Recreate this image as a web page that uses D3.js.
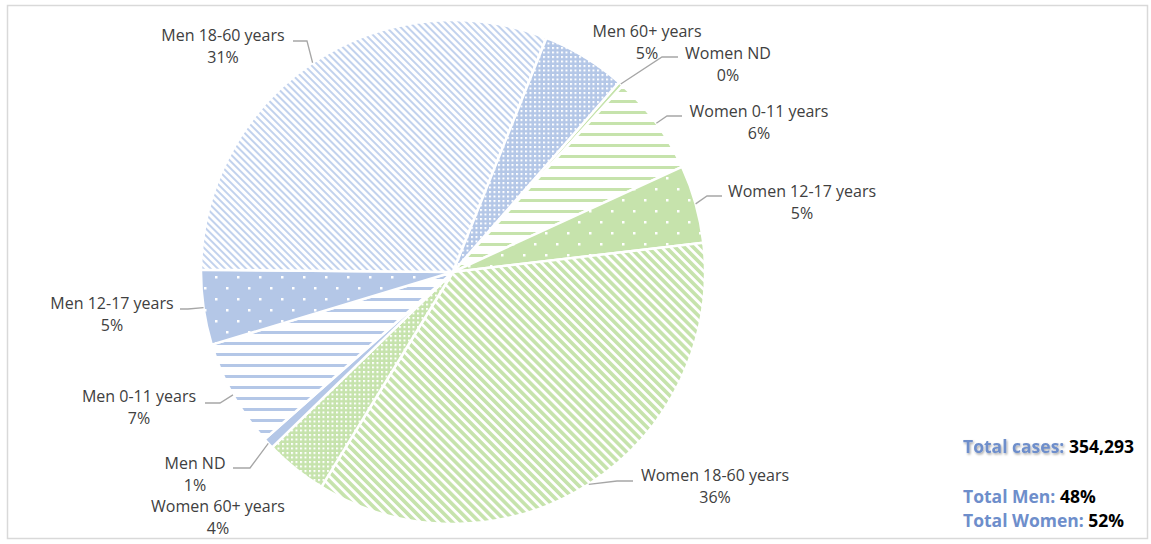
<!DOCTYPE html>
<html>
<head>
<meta charset="utf-8">
<script src="https://cdn.jsdelivr.net/npm/d3@7"></script>
<style>
  body { margin: 0; background: #fff; }
  svg { display: block; font-family: "Open Sans", sans-serif; }
</style>
</head>
<body>
<svg id="chart" width="1151" height="544"></svg>
<script>
// slice order follows the chart, clockwise from the first slice
const categories = ['Women ND', 'Women 0-11 years', 'Women 12-17 years', 'Women 18-60 years', 'Women 60+ years',
                    'Men ND', 'Men 0-11 years', 'Men 12-17 years', 'Men 18-60 years', 'Men 60+ years']
const shares = [0.3, 6.4, 5.0, 35.6, 4.0, 0.7, 6.9, 4.8, 30.9, 5.4]
const groups = ['women', 'women', 'women', 'women', 'women', 'men', 'men', 'men', 'men', 'men']
const ages = ['nd', 'a0', 'a12', 'a18', 'a60', 'nd', 'a0', 'a12', 'a18', 'a60']
const totalCases = '354,293'
const totalMen = '48%'
const totalWomen = '52%'

const colors = { men: '#b4c7e7', women: '#c6e3ac' }

// label layout: text centre, plus leader elbow / end (null = no leader)
const labelPos = [
    { x: 728, y: 53, elbow: [662, 57], end: [678, 57] },
    { x: 759, y: 111, elbow: [667, 116], end: [682, 116] },
    { x: 802, y: 191, elbow: [707, 196], end: [722, 196] },
    { x: 715, y: 475, elbow: [617, 481], end: [633, 481] },
    { x: 218, y: 506, elbow: null },
    { x: 195, y: 463, elbow: [250, 468], end: [233, 468] },
    { x: 139, y: 396, elbow: [220, 403], end: [205, 403] },
    { x: 112, y: 303, elbow: [188, 309], end: [180, 309] },
    { x: 223, y: 35, elbow: [307, 41], end: [293, 41] },
    { x: 647, y: 31, elbow: null }
]

const svg = d3.select('#chart')
const cx = 453, cy = 272, radius = 252
const startDeg = 41.2

// frame
svg.append('rect')
    .attr('x', 7.5).attr('y', 5.5)
    .attr('width', 1140).attr('height', 533)
    .attr('fill', '#fff')
    .attr('stroke', '#d9d9d9')
    .attr('stroke-width', 1.5)

// fill patterns
const defs = svg.append('defs')
Object.keys(colors).forEach(g => {
    const c = colors[g]
    // 0-11: horizontal stripes on white
    let p = defs.append('pattern').attr('id', `${g}-a0`)
        .attr('patternUnits', 'userSpaceOnUse').attr('width', 16).attr('height', 11)
    p.append('rect').attr('width', 16).attr('height', 11).attr('fill', '#fff')
    p.append('rect').attr('y', 4).attr('width', 16).attr('height', 3).attr('fill', c)

    // 12-17: sparse white dots on colour
    p = defs.append('pattern').attr('id', `${g}-a12`)
        .attr('patternUnits', 'userSpaceOnUse').attr('width', 22).attr('height', 22)
    p.append('rect').attr('width', 22).attr('height', 22).attr('fill', c)
    p.append('rect').attr('x', 4).attr('y', 4).attr('width', 2.5).attr('height', 2.5).attr('fill', '#fff')
    p.append('rect').attr('x', 15).attr('y', 15).attr('width', 2.5).attr('height', 2.5).attr('fill', '#fff')

    // 60+: dense white dots
    p = defs.append('pattern').attr('id', `${g}-a60`)
        .attr('patternUnits', 'userSpaceOnUse').attr('width', 4.5).attr('height', 4.5)
    p.append('rect').attr('width', 4.5).attr('height', 4.5).attr('fill', c)
    p.append('rect').attr('width', 2).attr('height', 2).attr('fill', '#fff')
})

// 18-60 women: wide downward diagonal
let pd = defs.append('pattern').attr('id', 'women-a18')
    .attr('patternUnits', 'userSpaceOnUse').attr('width', 6.4).attr('height', 6.4)
    .attr('patternTransform', 'rotate(-45)')
pd.append('rect').attr('width', 6.4).attr('height', 6.4).attr('fill', '#fff')
pd.append('rect').attr('width', 3.6).attr('height', 6.4).attr('fill', colors.women)

// 18-60 men: light downward diagonal
pd = defs.append('pattern').attr('id', 'men-a18')
    .attr('patternUnits', 'userSpaceOnUse').attr('width', 5).attr('height', 5)
    .attr('patternTransform', 'rotate(-45)')
pd.append('rect').attr('width', 5).attr('height', 5).attr('fill', '#fff')
pd.append('rect').attr('width', 2).attr('height', 5).attr('fill', '#c2d2ed')

const fillFor = i => ages[i] === 'nd' ? colors[groups[i]] : `url(#${groups[i]}-${ages[i]})`

const pie = d3.pie().sort(null).value(d => d)
    .startAngle(startDeg * Math.PI / 180)
    .endAngle(startDeg * Math.PI / 180 + 2 * Math.PI)
const arcs = pie(shares)
const arc = d3.arc().innerRadius(0).outerRadius(radius)

const g = svg.append('g').attr('transform', `translate(${cx}, ${cy})`)
g.selectAll('path.slice')
    .data(arcs)
    .enter().append('path')
    .attr('class', 'slice')
    .attr('d', arc)
    .attr('fill', (d, i) => fillFor(i))
    .attr('stroke', '#fff')
    .attr('stroke-width', 2.5)
    .attr('stroke-linejoin', 'round')

// leader lines
const pointOnArc = d => {
    const a = (d.startAngle + d.endAngle) / 2
    return [cx + radius * Math.sin(a), cy - radius * Math.cos(a)]
}
arcs.forEach((d, i) => {
    const lp = labelPos[i]
    if (!lp.elbow) return
    svg.append('path')
        .attr('d', d3.line()([pointOnArc(d), lp.elbow, lp.end]))
        .attr('fill', 'none')
        .attr('stroke', '#a6a6a6')
        .attr('stroke-width', 1.3)
})

// labels
arcs.forEach((d, i) => {
    const lp = labelPos[i]
    const t = svg.append('text')
        .attr('text-anchor', 'middle')
        .attr('font-size', 16)
        .attr('fill', '#404040')
    t.append('tspan').attr('x', lp.x).attr('y', lp.y + 5.5).text(categories[i])
    t.append('tspan').attr('x', lp.x).attr('y', lp.y + 27.5).text(Math.round(shares[i]) + '%')
})

// totals
const shadow = defs.append('filter').attr('id', 'shadow')
    .attr('x', '-10%').attr('y', '-30%').attr('width', '120%').attr('height', '160%')
shadow.append('feDropShadow')
    .attr('dx', 1).attr('dy', 1.5).attr('stdDeviation', 1.2)
    .attr('flood-color', '#000').attr('flood-opacity', 0.35)

const blue = '#6e8ecb'
const totals = [
    { y: 453, head: 'Total cases: ', val: totalCases, shadow: true },
    { y: 503, head: 'Total Men: ', val: totalMen },
    { y: 527, head: 'Total Women: ', val: totalWomen }
]
totals.forEach(r => {
    const t = svg.append('text')
        .attr('x', 963).attr('y', r.y)
        .attr('font-size', 17.5).attr('font-weight', 'bold')
    t.append('tspan').attr('fill', blue)
        .attr('filter', r.shadow ? 'url(#shadow)' : null)
        .text(r.head)
    t.append('tspan').attr('fill', '#000').text(r.val)
})
</script>
</body>
</html>
